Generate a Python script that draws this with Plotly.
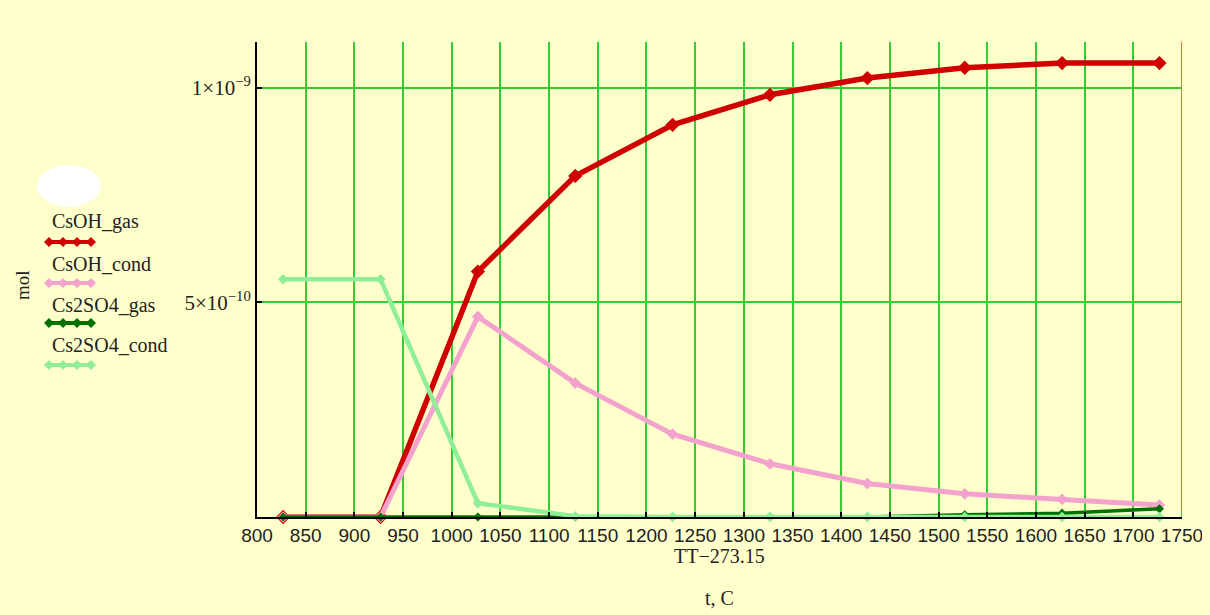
import plotly.graph_objects as go

# ---- data ----
t_C = [826.85, 926.85, 1026.85, 1126.85, 1226.85, 1326.85, 1426.85, 1526.85, 1626.85, 1726.85]
csoh_gas = [0, 0, 0.572e-9, 0.795e-9, 0.914e-9, 0.984e-9, 1.023e-9, 1.047e-9, 1.058e-9, 1.058e-9]
csoh_cond = [0, 0, 0.467e-9, 0.312e-9, 0.193e-9, 0.124e-9, 0.078e-9, 0.054e-9, 0.041e-9, 0.028e-9]
cs2so4_gas = [0, 0, 0, 0, 0, 0, 0, 0.005e-9, 0.009e-9, 0.019e-9]
cs2so4_cond = [0.554e-9, 0.554e-9, 0.032e-9, 0.002e-9, 0, 0, 0, 0, 0, 0]

series_names = ["CsOH_gas", "CsOH_cond", "Cs2SO4_gas", "Cs2SO4_cond"]
series_vals = [csoh_gas, csoh_cond, cs2so4_gas, cs2so4_cond]
colors = ["#D00000", "#F2A2CC", "#007000", "#8FEE98"]
widths = [5.5, 5, 3.5, 4.5]
msizes = [11, 9, 7, 8]

x_ticks = list(range(800, 1751, 50))
y_tickvals = [5e-10, 1e-9]
y_ticktext = ["5×10<sup>−10</sup>", "1×10<sup>−9</sup>"]

BG = "#FFFFCC"
OFF = 8  # page body margin
W, H = 1210 - OFF, 615 - OFF
PL, PR, PT, PB = 257, 1182, 42, 517  # plot area in page pixels
L, R, T, B = PL - OFF, W - (PR - OFF), PT - OFF, H - (PB - OFF)
PW, PH = W - L - R, H - T - B

def px(x):
    return (x - OFF - L) / PW

def py(y):
    return (H - B - (y - OFF)) / PH

fig = go.Figure()
for name, vals, c, w, ms in zip(series_names, series_vals, colors, widths, msizes):
    fig.add_trace(go.Scatter(
        x=t_C, y=vals, mode="lines+markers", name=name,
        line=dict(color=c, width=w),
        marker=dict(symbol="diamond", size=ms, color=c),
        showlegend=False, cliponaxis=False,
    ))

serif = "Liberation Serif"
txt = "#222222"
shapes = []
annotations = []

# legend (Mathcad style: label above a line sample)
label_y = [222, 264, 305, 345]
sample_y = [242, 283, 323, 365]
for name, c, ly, sy in zip(series_names, colors, label_y, sample_y):
    annotations.append(dict(x=px(50), y=py(ly), xref="paper", yref="paper",
                            text=name, showarrow=False, xanchor="left", yanchor="middle",
                            font=dict(family=serif, size=20, color=txt)))
    shapes.append(dict(type="line", xref="paper", yref="paper",
                       x0=px(47), x1=px(92), y0=py(sy), y1=py(sy),
                       line=dict(color=c, width=4)))
    for dx in [49, 63, 77, 91]:
        path = "M {a},{b} L {c},{d} L {e},{f} L {g},{h} Z".format(
            a=px(dx), b=py(sy - 5), c=px(dx + 5), d=py(sy),
            e=px(dx), f=py(sy + 5), g=px(dx - 5), h=py(sy))
        shapes.append(dict(type="path", xref="paper", yref="paper", path=path,
                           fillcolor=c, line=dict(color=c, width=0)))

# white blotch above legend
shapes.append(dict(type="circle", xref="paper", yref="paper",
                   x0=px(37), x1=px(101), y0=py(207), y1=py(165),
                   fillcolor="white", line=dict(color="white", width=0), opacity=0.95))

# right edge gridline
shapes.append(dict(type="line", xref="x", yref="paper", x0=1750, x1=1750, y0=0, y1=1,
                   line=dict(color="#33CC33", width=2), layer="below"))

annotations.append(dict(x=px(22), y=py(285), xref="paper", yref="paper", text="mol",
                        textangle=-90, showarrow=False, xanchor="center", yanchor="middle",
                        font=dict(family=serif, size=19, color=txt)))
annotations.append(dict(x=0.5, y=py(556), xref="paper", yref="paper", text="TT−273.15",
                        showarrow=False, xanchor="center", yanchor="middle",
                        font=dict(family=serif, size=20, color=txt)))
annotations.append(dict(x=0.5, y=py(598), xref="paper", yref="paper", text="t, C",
                        showarrow=False, xanchor="center", yanchor="middle",
                        font=dict(family=serif, size=20, color=txt)))

fig.update_layout(
    width=W, height=H,
    margin=dict(l=L, r=R, t=T, b=B, pad=0, autoexpand=False),
    paper_bgcolor=BG, plot_bgcolor=BG,
    shapes=shapes, annotations=annotations,
    xaxis=dict(range=[800, 1750], tickvals=x_ticks, ticktext=[str(v) for v in x_ticks],
               showgrid=True, gridcolor="#33CC33", gridwidth=2,
               showline=True, linecolor="black", linewidth=2,
               ticks="inside", ticklen=5, tickcolor="black", tickwidth=2,
               tickfont=dict(family="Liberation Sans", size=19, color=txt),
               zeroline=False, fixedrange=True),
    yaxis=dict(range=[0, 1.107e-9], tickvals=y_tickvals, ticktext=y_ticktext,
               showgrid=True, gridcolor="#33CC33", gridwidth=2,
               showline=True, linecolor="black", linewidth=2,
               ticks="inside", ticklen=5, tickcolor="black", tickwidth=2,
               tickfont=dict(family=serif, size=21, color=txt),
               zeroline=False, fixedrange=True),
)

fig.write_html("out.html",
               post_script="document.body.style.background='%s';" % BG)
